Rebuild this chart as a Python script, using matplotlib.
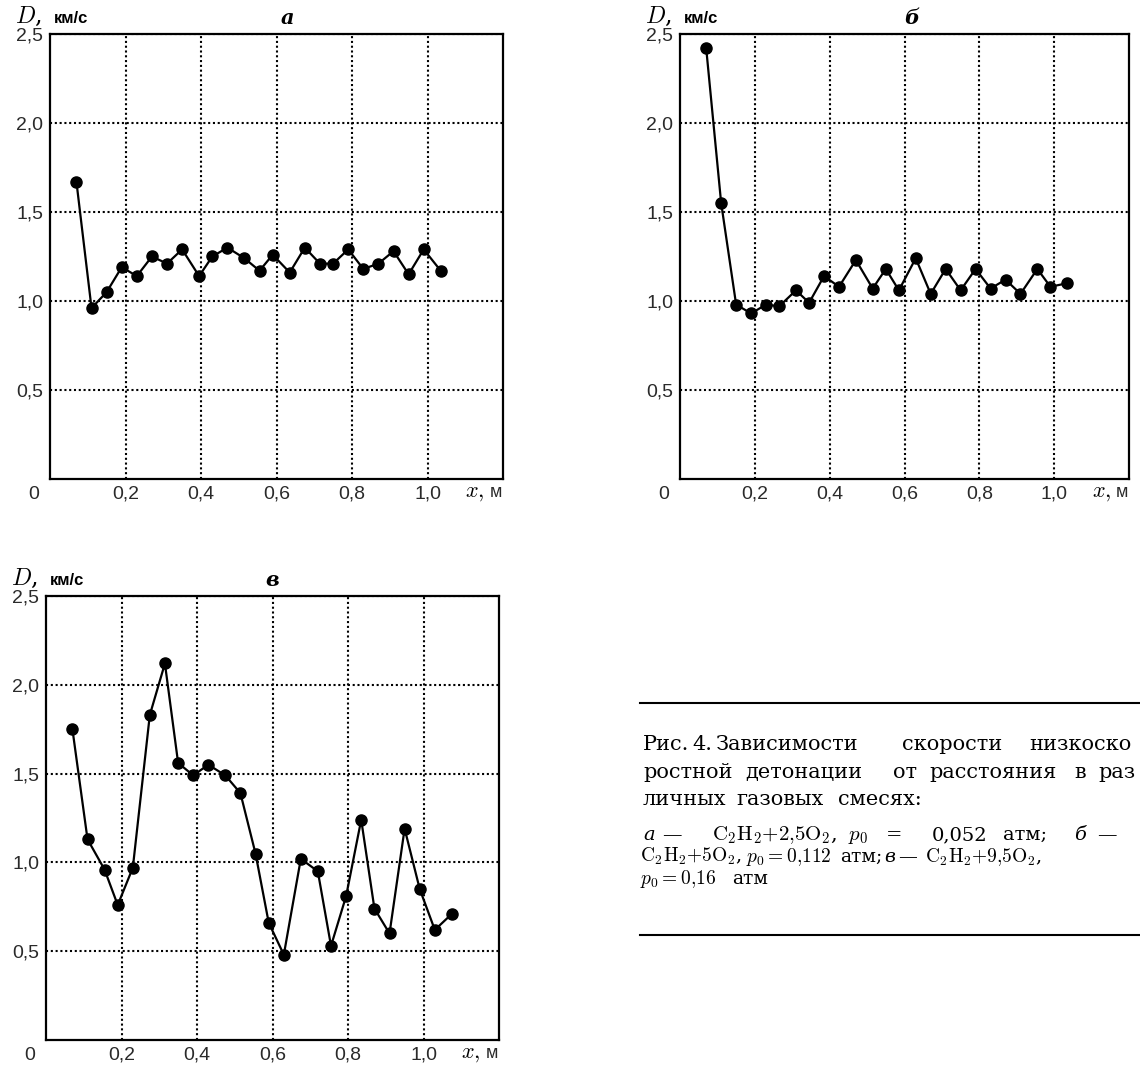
import matplotlib
matplotlib.use("Agg")
import matplotlib.pyplot as plt
from matplotlib.lines import Line2D

plt.rcParams['mathtext.fontset'] = 'cm'
plt.rcParams['font.family'] = ['Liberation Sans', 'DejaVu Sans']

W, H = 1140, 1065

# данные (x, м ; D, км/с)
x_a = [0.07, 0.11, 0.15, 0.19, 0.23, 0.27, 0.31, 0.35, 0.395, 0.43, 0.47, 0.515,
       0.555, 0.59, 0.635, 0.675, 0.715, 0.75, 0.79, 0.83, 0.87, 0.91, 0.95, 0.99, 1.035]
d_a = [1.67, 0.96, 1.05, 1.19, 1.14, 1.25, 1.21, 1.29, 1.14, 1.25, 1.30, 1.24,
       1.17, 1.26, 1.16, 1.30, 1.21, 1.21, 1.29, 1.18, 1.21, 1.28, 1.15, 1.29, 1.17]

x_b = [0.07, 0.11, 0.15, 0.19, 0.23, 0.265, 0.31, 0.345, 0.385, 0.425, 0.47, 0.515,
       0.55, 0.585, 0.63, 0.67, 0.71, 0.75, 0.79, 0.83, 0.87, 0.91, 0.955, 0.99, 1.035]
d_b = [2.42, 1.55, 0.98, 0.93, 0.98, 0.97, 1.06, 0.99, 1.14, 1.08, 1.23, 1.07,
       1.18, 1.06, 1.24, 1.04, 1.18, 1.06, 1.18, 1.07, 1.12, 1.04, 1.18, 1.08, 1.10]

x_c = [0.07, 0.11, 0.155, 0.19, 0.23, 0.275, 0.315, 0.35, 0.39, 0.43, 0.475, 0.515,
       0.555, 0.59, 0.63, 0.675, 0.72, 0.755, 0.795, 0.835, 0.87, 0.91, 0.95, 0.99,
       1.03, 1.075]
d_c = [1.75, 1.13, 0.96, 0.76, 0.97, 1.83, 2.12, 1.56, 1.49, 1.55, 1.49, 1.39,
       1.05, 0.66, 0.48, 1.02, 0.95, 0.53, 0.81, 1.24, 0.74, 0.60, 1.19, 0.85,
       0.62, 0.71]

xticks = [0.2, 0.4, 0.6, 0.8, 1.0]
xlabels = ['0,2', '0,4', '0,6', '0,8', '1,0']
yticks = [0.5, 1.0, 1.5, 2.0, 2.5]
ylabels = ['0,5', '1,0', '1,5', '2,0', '2,5']

fig = plt.figure(figsize=(W / 100, H / 100), dpi=100)


def add_panel(l, t, r, b, xs, ds, letter, letter_x):
    ax = fig.add_axes([l / W, 1 - b / H, (r - l) / W, (b - t) / H])
    ax.set_xlim(0, 1.2)
    ax.set_ylim(0, 2.5)
    ax.set_xticks(xticks, xlabels)
    ax.set_yticks(yticks, ylabels)
    ax.tick_params(length=0, labelsize=14, labelcolor='#2a2a2a')
    ax.tick_params(axis='x', pad=5)
    ax.tick_params(axis='y', pad=5)
    for s in ax.spines.values():
        s.set_linewidth(1.6)
    ax.grid(True, color='black', ls=(0, (1, 1.3)), lw=1.5)
    ax.plot(xs, ds, '-o', color='black', lw=1.6, ms=8, zorder=3, clip_on=False)

    # подписи осей
    ax.annotate('0', xy=(0, 0), xycoords='axes fraction', xytext=(-12, -11.5),
                textcoords='offset points', ha='center', va='center',
                fontsize=14, color='#2a2a2a')
    ax.annotate('$D$,', xy=(0, 1), xycoords='axes fraction', xytext=(-25, 8),
                textcoords='offset points', ha='left', va='baseline',
                fontsize=17, family='DejaVu Serif')
    ax.annotate('км/с', xy=(0, 1), xycoords='axes fraction', xytext=(3, 8),
                textcoords='offset points', ha='left', va='baseline',
                fontsize=12, fontweight='bold')
    ax.annotate('$x,$', xy=(1.1, 0), xycoords=('data', 'axes fraction'), xytext=(0, -13),
                textcoords='offset points', ha='left', va='baseline',
                fontsize=16)
    ax.annotate('м', xy=(1.165, 0), xycoords=('data', 'axes fraction'), xytext=(0, -13),
                textcoords='offset points', ha='left', va='baseline',
                fontsize=13, color='#2a2a2a')
    ax.annotate(letter, xy=(letter_x, 1), xycoords=('data', 'axes fraction'),
                xytext=(0, 11.5), textcoords='offset points', ha='center', va='center',
                fontsize=15, family='DejaVu Serif', style='italic', fontweight='bold')
    return ax


add_panel(50, 34, 503, 479, x_a, d_a, 'а', 0.63)
add_panel(680, 34, 1129, 479, x_b, d_b, 'б', 0.62)
add_panel(46, 596, 499, 1040, x_c, d_c, 'в', 0.60)

# подпись к рисунку
for yy in (703, 935):
    fig.add_artist(Line2D([640 / W, 1.0], [1 - yy / H] * 2, color='black', lw=1.5))


def put(xp, yp, s, size, **kw):
    fig.text(xp / W, 1 - yp / H, s, fontsize=size, family='DejaVu Serif',
             va='baseline', ha='left', **kw)


line1 = [(643, 'Рис.'), (692, '4.'), (716, 'Зависимости'), (902, 'скорости'), (1029, 'низкоско')]
line2 = [(643, 'ростной'), (745, 'детонации'), (893, 'от'), (929, 'расстояния'),
         (1074, 'в'), (1098, 'раз')]
line3 = [(643, 'личных'), (736, 'газовых'), (838, 'смесях:')]
for words, yb in ((line1, 750), (line2, 778), (line3, 805)):
    for xp, w in words:
        put(xp, yb, w, 15)

put(643, 840, 'а', 14, style='italic')
put(662, 840, '—', 14)
put(712, 840, r'$\mathrm{C_2H_2{+}2{,}5O_2}$,', 15)
put(848, 840, '$p_0$', 15)
put(886, 840, '=', 14)
put(932, 840, '0,052', 14)
put(1003, 840, 'атм;', 14)
put(1074, 840, 'б', 14, style='italic')
put(1097, 840, '—', 14)

put(640, 862, r'$\mathrm{C_2H_2{+}5O_2}$,', 14)
put(746, 862, r'$p_0 = 0{,}112$', 14)
put(840, 862, 'атм;', 13.5)
put(884, 862, 'в', 13.5, style='italic')
put(898, 862, '—', 13.5)
put(925, 862, r'$\mathrm{C_2H_2{+}9{,}5O_2}$,', 14)
put(640, 884, r'$p_0 = 0{,}16$', 14)
put(732, 884, 'атм', 13.5)

fig.savefig('out.png', dpi=100)
